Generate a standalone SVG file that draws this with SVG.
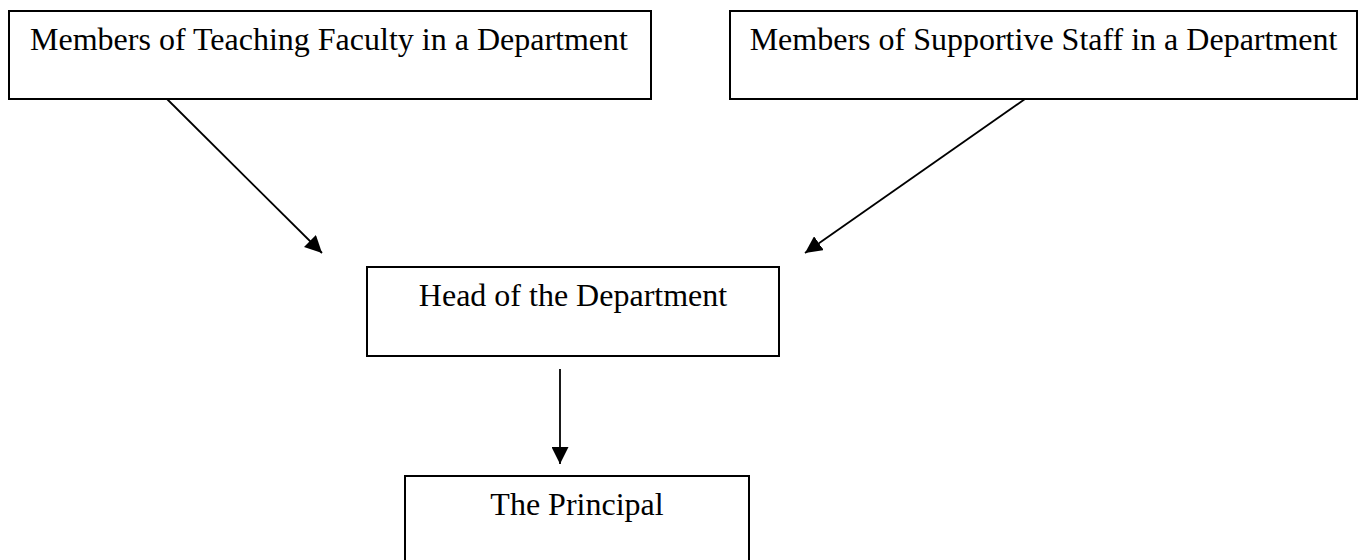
<svg xmlns="http://www.w3.org/2000/svg" width="1365" height="560" viewBox="0 0 1365 560">
<style>
.box{fill:#fff;stroke:#000;stroke-width:2}
.lbl{font-family:"Liberation Serif","Times New Roman",serif;font-size:32px;fill:#000;text-anchor:middle}
.con{stroke:#000;stroke-width:1.8;fill:none}
</style>
<defs>
<marker id="ah" viewBox="0 0 10 10" refX="10" refY="5" markerWidth="17" markerHeight="17" markerUnits="userSpaceOnUse" orient="auto">
<path d="M0,0 L10,5 L0,10 z" fill="#000"/>
</marker>
</defs>
<rect width="1365" height="560" fill="#fff"/>
<g id="teaching">
<rect class="box" x="9" y="11" width="642" height="88"/>
<text class="lbl" x="329" y="50">Members of Teaching Faculty in a Department</text>
</g>
<g id="supportive">
<rect class="box" x="730" y="11" width="627" height="88"/>
<text class="lbl" x="1043.5" y="50">Members of Supportive Staff in a Department</text>
</g>
<g id="hod">
<rect class="box" x="367" y="267" width="412" height="89"/>
<text class="lbl" x="573" y="306">Head of the Department</text>
</g>
<g id="principal">
<rect class="box" x="405" y="476" width="344" height="100"/>
<text class="lbl" x="577" y="515">The Principal</text>
</g>
<g id="connectors">
<line class="con" x1="167" y1="99" x2="322" y2="253" marker-end="url(#ah)"/>
<line class="con" x1="1025" y1="99" x2="805" y2="253" marker-end="url(#ah)"/>
<line class="con" x1="560" y1="369" x2="560" y2="464" marker-end="url(#ah)"/>
</g>
</svg>
